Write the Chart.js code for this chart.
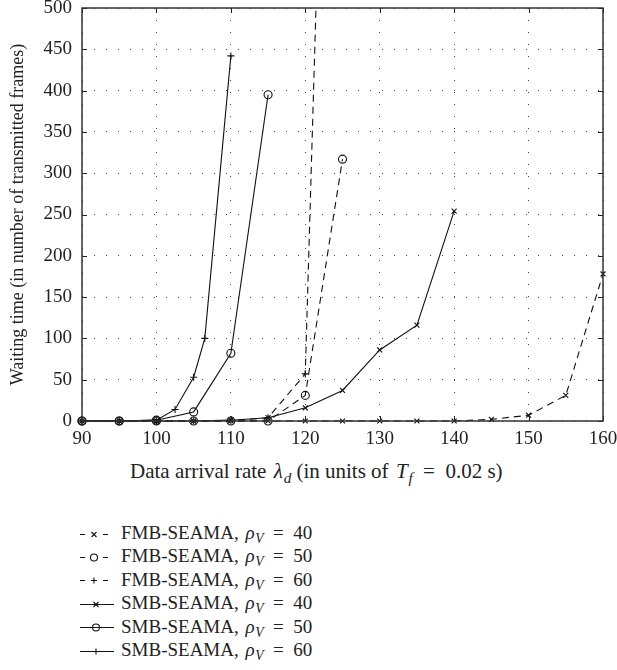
<!DOCTYPE html>
<html lang="en">
	<head>
		<meta charset="utf-8"/>
		<title>Waiting time vs data arrival rate</title>
		<script src="https://cdn.jsdelivr.net/npm/chart.js@4.4.0/dist/chart.umd.min.js"></script>
		<style>
			body {
				margin: 0;
				background-color: white;
				font-family: "Liberation Serif", serif;
				color: #222;
			}
			.main {
				position: relative;
				width: 617px;
				height: 670px;
			}
			.plot {
				position: absolute;
				left: 0;
				top: 0;
				width: 617px;
				height: 455px;
			}
			.xtitle {
				position: absolute;
				left: 130px;
				top: 459px;
				font-size: 21px;
				white-space: nowrap;
			}
			.legend {
				position: absolute;
				left: 80px;
				top: 521px;
				font-size: 19px;
				line-height: 23.4px;
			}
			.legend div {
				height: 23.4px;
				white-space: nowrap;
			}
			.legend canvas {
				vertical-align: middle;
				margin-right: 7px;
				position: relative;
				top: -1px;
			}
			.eq { padding: 0 0.5em; }
			i.m { padding-left: 0.1em; }
			sub { font-size: 0.72em; vertical-align: -0.3em; line-height: 0; padding-left: 0.05em; }
		</style>
	</head>

	<body>
		<div class="main">
			<div class="plot">
				<canvas id="myChart" width="617" height="455"></canvas>
			</div>
			<div class="xtitle">Data arrival rate <i class="m">λ</i><sub><i>d</i></sub> (in units of <i class="m">T</i><sub><i>f</i></sub><span class="eq">=</span>0.02 s)</div>
			<div class="legend" id="legend"></div>
		</div>

		<script>
			// data
			const xTicks = [90, 100, 110, 120, 130, 140, 150, 160];
			const yTicks = [0, 50, 100, 150, 200, 250, 300, 350, 400, 450, 500];

			const fmb40X = [90, 95, 100, 105, 110, 115, 120, 125, 130, 135, 140, 145, 150, 155, 160];
			const fmb40Y = [0, 0, 0, 0, 0, 0, 0, 0, 0, 0, 0, 2, 7, 31, 178];
			const fmb50X = [90, 95, 100, 105, 110, 115, 120, 125];
			const fmb50Y = [0, 0, 0, 0, 0, 0, 31, 317];
			const fmb60X = [90, 95, 100, 105, 110, 115, 120, 125];
			const fmb60Y = [0, 0, 0, 0, 0, 4, 57, 1600];
			const smb40X = [90, 95, 100, 105, 110, 115, 120, 125, 130, 135, 140];
			const smb40Y = [0, 0, 0, 0, 1, 4, 16, 37, 86, 116, 254];
			const smb50X = [90, 95, 100, 105, 110, 115];
			const smb50Y = [0, 0, 1, 11, 82, 395];
			const smb60X = [90, 95, 100, 102.5, 105, 106.5, 110];
			const smb60Y = [0, 0, 1, 14, 53, 100, 442];

			const seriesNames = ['FMB-SEAMA', 'FMB-SEAMA', 'FMB-SEAMA', 'SMB-SEAMA', 'SMB-SEAMA', 'SMB-SEAMA'];
			const rhoValues = [40, 50, 60, 40, 50, 60];

			function pts(xs, ys) {
				return xs.map((x, i) => ({x: x, y: ys[i]}));
			}

			function makeSet(xs, ys, marker, dashed) {
				return {
					data: pts(xs, ys),
					borderColor: '#111',
					backgroundColor: 'rgba(0,0,0,0)',
					borderWidth: 1.1,
					borderDash: dashed ? [7, 5] : [],
					pointStyle: marker,
					pointRadius: marker == 'circle' ? 4 : 3.5,
					pointBorderColor: '#111',
					pointBorderWidth: 1.1,
					tension: 0,
					clip: {left: 6, right: 6, top: 0, bottom: 6}
				};
			}

			const sets = [
				makeSet(fmb40X, fmb40Y, 'crossRot', true),
				makeSet(fmb50X, fmb50Y, 'circle', true),
				makeSet(fmb60X, fmb60Y, 'cross', true),
				makeSet(smb40X, smb40Y, 'crossRot', false),
				makeSet(smb50X, smb50Y, 'circle', false),
				makeSet(smb60X, smb60Y, 'cross', false)
			];

			// box and inward ticks like the original
			const boxPlugin = {
				id: 'box',
				afterDraw(chart) {
					const ctx = chart.ctx;
					const a = chart.chartArea;
					const xs = chart.scales.x, ys = chart.scales.y;
					ctx.save();
					ctx.strokeStyle = '#222';
					ctx.lineWidth = 1;
					xTicks.forEach(v => {
						const px = Math.round(xs.getPixelForValue(v)) + 0.5;
						ctx.beginPath();
						ctx.moveTo(px, a.bottom); ctx.lineTo(px, a.bottom - 5);
						ctx.moveTo(px, a.top); ctx.lineTo(px, a.top + 5);
						ctx.stroke();
					});
					yTicks.forEach(v => {
						const py = Math.round(ys.getPixelForValue(v)) + 0.5;
						ctx.beginPath();
						ctx.moveTo(a.left, py); ctx.lineTo(a.left + 5, py);
						ctx.moveTo(a.right, py); ctx.lineTo(a.right - 5, py);
						ctx.stroke();
					});
					ctx.lineWidth = 1.5;
					ctx.strokeStyle = '#333';
					ctx.strokeRect(a.left, a.top, a.right - a.left, a.bottom - a.top);
					ctx.restore();
				}
			};

			let ch1 = document.getElementById('myChart').getContext('2d');
			let chart1 = new Chart(ch1, {
				type: 'line',
				data: { datasets: sets },
				plugins: [boxPlugin],
				options: {
					responsive: false,
					animation: false,
					layout: { padding: { top: 8, right: 14, left: 0, bottom: 0 } },
					plugins: {
						legend: { display: false },
						tooltip: { enabled: false }
					},
					scales: {
						x: {
							type: 'linear',
							min: 90,
							max: 160,
							afterFit: (s) => { s.height = 34; s.paddingLeft = 0; s.paddingRight = 0; },
							afterBuildTicks: (s) => { s.ticks = xTicks.map(v => ({value: v})); },
							grid: { color: '#444', lineWidth: 1, drawTicks: false },
							border: { display: false, dash: [1, 11] },
							ticks: {
								padding: 7,
								color: '#222',
								font: { family: '"Liberation Serif", serif', size: 19 }
							}
						},
						y: {
							type: 'linear',
							min: 0,
							max: 500,
							afterFit: (s) => { s.width = 82; s.paddingTop = 0; s.paddingBottom = 0; },
							afterBuildTicks: (s) => { s.ticks = yTicks.map(v => ({value: v})); },
							grid: { color: '#444', lineWidth: 1, drawTicks: false },
							border: { display: false, dash: [1, 11] },
							title: {
								display: true,
								text: 'Waiting time (in number of transmitted frames)',
								color: '#222',
								padding: { top: 7, bottom: 0 },
								font: { family: '"Liberation Serif", serif', size: 18 }
							},
							ticks: {
								padding: 10,
								color: '#222',
								font: { family: '"Liberation Serif", serif', size: 19 }
							}
						}
					}
				}
			});

			// legend rows with a line sample drawn on a small canvas
			const legendEl = document.getElementById('legend');
			sets.forEach((ds, i) => {
				const row = document.createElement('div');
				const c = document.createElement('canvas');
				c.width = 34; c.height = 14;
				const g = c.getContext('2d');
				g.strokeStyle = '#111';
				g.lineWidth = 1.1;
				const dashed = ds.borderDash.length > 0;
				g.beginPath();
				if (dashed) {
					g.moveTo(0, 7.5); g.lineTo(5, 7.5);
					g.moveTo(23, 7.5); g.lineTo(28, 7.5);
				} else {
					g.moveTo(0, 7.5); g.lineTo(34, 7.5);
				}
				g.stroke();
				const cx = dashed ? 14 : 16, r = 3;
				g.beginPath();
				if (ds.pointStyle == 'circle') {
					g.arc(cx, 7.5, 3.5, 0, Math.PI * 2);
				} else if (ds.pointStyle == 'cross') {
					g.moveTo(cx - r, 7.5); g.lineTo(cx + r, 7.5);
					g.moveTo(cx, 7.5 - r); g.lineTo(cx, 7.5 + r);
				} else {
					g.moveTo(cx - 2.5, 5); g.lineTo(cx + 2.5, 10);
					g.moveTo(cx + 2.5, 5); g.lineTo(cx - 2.5, 10);
				}
				g.stroke();
				row.appendChild(c);
				const span = document.createElement('span');
				span.innerHTML = seriesNames[i] + ', <i class="m">ρ</i><sub><i>V</i></sub><span class="eq">=</span>' + rhoValues[i];
				row.appendChild(span);
				legendEl.appendChild(row);
			});
		</script>
	</body>
</html>
